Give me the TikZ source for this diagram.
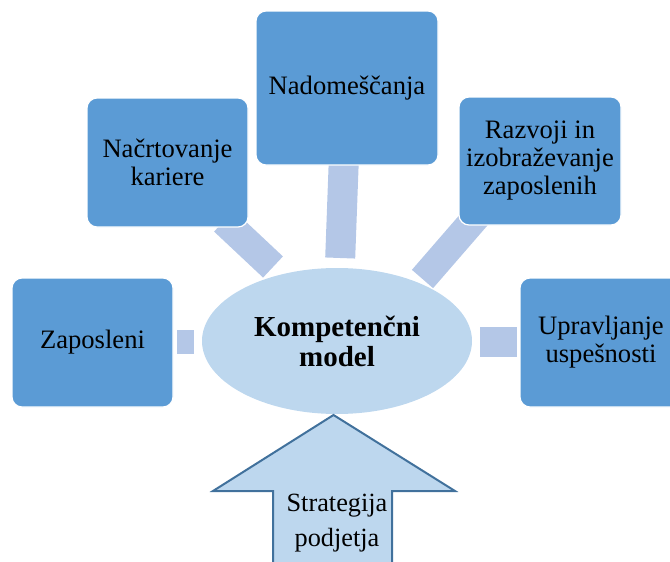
\documentclass[tikz,border=0pt]{standalone}
\usepackage{fontspec}
\setmainfont{Liberation Serif}
\usetikzlibrary{shapes.geometric,backgrounds}
\definecolor{boxblue}{HTML}{5B9BD5}
\definecolor{barblue}{HTML}{B4C7E7}
\definecolor{paleblue}{HTML}{BDD7EE}
\definecolor{edgeblue}{HTML}{41719C}
\begin{document}
\begin{tikzpicture}[x=1pt,y=-1pt,
  topic/.style={draw=white, line width=1.2pt, fill=boxblue, rounded corners=10pt,
    inner sep=0pt, align=center, text=black, font=\fontsize{26.6}{28}\selectfont},
  bar/.style={draw=barblue, line width=#1, line cap=butt},
  core/.style={ellipse, fill=paleblue, inner sep=0pt, align=center,
    minimum width=270pt, minimum height=146pt,
    font=\bfseries\fontsize{29}{30}\selectfont},
  blockarrow/.style={draw=edgeblue, fill=paleblue, line width=2pt, line join=miter},
]
\useasboundingbox (0,0) rectangle (670,562);

% outer topics
\node[topic, minimum width=182pt, minimum height=154pt] (nad) at (347,88) {Nadomeščanja};
\node[topic, minimum width=161pt, minimum height=129pt] (nac) at (167.5,162.5) {Načrtovanje\\kariere};
\node[topic, minimum width=162pt, minimum height=128pt] (raz) at (540,161) {Razvoji in\\izobraževanje\\zaposlenih};
\node[topic, minimum width=161pt, minimum height=129pt] (zap) at (92.5,342.5) {Zaposleni};
\node[topic, minimum width=162pt, minimum height=129pt] (upr) at (601,342.5) {Upravljanje\\uspešnosti};

% central model
\node[core] (core) at (337,341) {Kompetenčni\\model};

% ends of the linking bars
\coordinate (nadA) at (343.8,160);
\coordinate (nadB) at (340.2,258);
\coordinate (nacA) at (224,221);
\coordinate (nacB) at (273,267);
\coordinate (razA) at (478,215);
\coordinate (razB) at (422.5,279);
\coordinate (zapA) at (177,342);
\coordinate (zapB) at (194,342);
\coordinate (uprA) at (480,342);
\coordinate (uprB) at (517,342);

\begin{scope}[on background layer]
  \draw[bar=30pt] (nadA) -- (nadB);
  \draw[bar=29pt] (nacA) -- (nacB);
  \draw[bar=28pt] (razA) -- (razB);
  \draw[bar=24pt] (zapA) -- (zapB);
  \draw[bar=30pt] (uprA) -- (uprB);
\end{scope}

% strategy arrow pointing up into the model
\coordinate (tip) at (333.5,415);
\draw[blockarrow] (tip) -- (455,491) -- (392,491) -- (392,580) -- (273,580)
  -- (273,491) -- (213,491) -- cycle;
\node[align=center, font=\fontsize{26.3}{35}\selectfont] (strat) at (337,523) {Strategija\\podjetja};
\end{tikzpicture}
\end{document}
